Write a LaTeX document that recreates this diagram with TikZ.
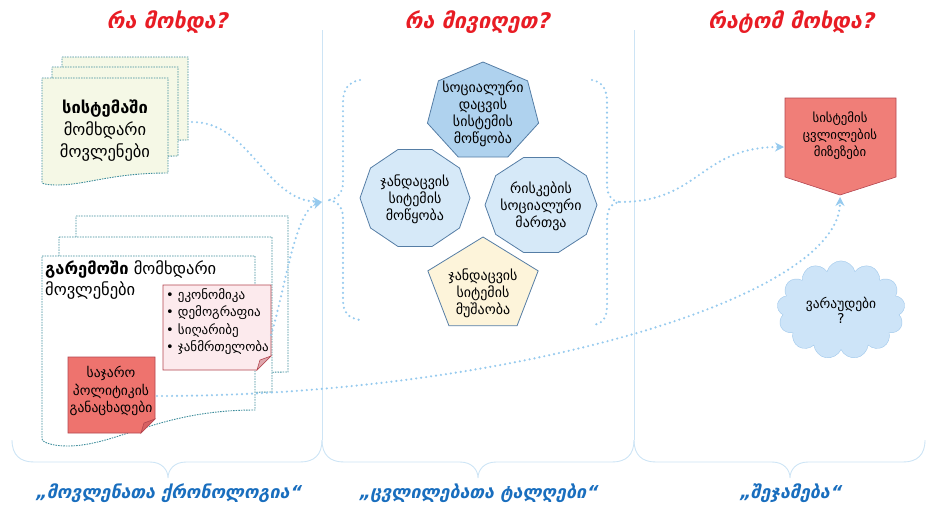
\documentclass[tikz,border=0pt]{standalone}
\usepackage{fontspec}
\setmainfont{DejaVu Sans}
\newfontfamily\headfont[FakeSlant=0.22]{DejaVu Sans Bold}
\usetikzlibrary{arrows.meta,shapes.symbols}

\definecolor{titlered}{RGB}{232,28,36}
\definecolor{labelblue}{RGB}{25,110,190}
\definecolor{sepblue}{RGB}{205,228,245}
\definecolor{dotblue}{RGB}{150,202,238}
\definecolor{docedge}{RGB}{60,140,155}
\definecolor{docfill}{RGB}{245,248,230}
\definecolor{polyedge}{RGB}{85,125,165}
\definecolor{heptfill}{RGB}{175,210,238}
\definecolor{decfill}{RGB}{214,233,248}
\definecolor{pentfill}{RGB}{253,244,218}
\definecolor{notepink}{RGB}{252,234,237}
\definecolor{pinkedge}{RGB}{180,70,80}
\definecolor{notered}{RGB}{238,115,110}
\definecolor{causered}{RGB}{240,126,120}
\definecolor{cloudfill}{RGB}{205,228,248}
\definecolor{cloudedge}{RGB}{160,200,235}

\tikzset{
  heading/.style={font=\headfont\fontsize{21.5}{24}\selectfont, text=titlered},
  footing/.style={font=\headfont\fontsize{17.8}{20}\selectfont, text=labelblue},
  sepline/.style={draw=sepblue, line width=0.9pt},
  docline/.style={draw=docedge, line width=0.9pt, dash pattern=on 1.5pt off 1.1pt},
  polyline/.style={draw=polyedge, line width=0.8pt},
  flow/.style={draw=dotblue, line width=2.4pt, dash pattern=on 0pt off 5pt, line cap=round},
  flowtip/.style={flow, -{Stealth[length=9pt,width=9pt,fill=dotblue]}},
  bodytext/.style={font=\fontsize{14}{17}\selectfont, align=center},
}

% one page of a stack: x1,y1,x2,y2,wave,fill
\newcommand\docsheet[6]{%
  \filldraw[docline, fill=#6] (#1,#2) -- (#3,#2) -- (#3,#4)
    .. controls ({#3-0.45*(#3-#1)},#4) and ({#1+0.35*(#3-#1)},{#4+#5}) .. ({#1+0.12*(#3-#1)},{#4+#5})
    .. controls ({#1+0.05*(#3-#1)},{#4+#5}) and (#1,{#4+0.9*#5}) .. (#1,{#4+0.8*#5}) -- cycle;}

% note with folded corner: x1,y1,x2,y2,fill,edge
\newcommand\stickynote[6]{%
  \filldraw[fill=#5, draw=#6, line width=0.6pt] (#1,#2) -- (#3,#2) -- (#3,{#4-14}) -- ({#3-14},#4) -- (#1,#4) -- cycle;
  \filldraw[fill=#6!40!#5, draw=#6, line width=0.6pt] (#3,{#4-14}) -- ({#3-14},#4) -- ({#3-11},{#4-10}) -- cycle;}

% polygon: sides, cx, cy, rx, ry, start angle, fill
\newcommand\polyshape[7]{%
  \filldraw[polyline, fill=#7] ({#2+#4*cos(#6)},{#3-#5*sin(#6)})
    \foreach \k in {1,...,#1}{ -- ({#2+#4*cos(#6+\k*360/#1)},{#3-#5*sin(#6+\k*360/#1)}) } -- cycle;}

% column bracket: left x, tip x, right x
\newcommand\colbrace[3]{%
  \draw[sepline] (#1,440) .. controls (#1,455) and ({#1+8},462) .. ({#1+22},462) -- ({#2-18},462)
    .. controls ({#2-6},462) and (#2,470) .. (#2,478)
    .. controls (#2,470) and ({#2+6},462) .. ({#2+18},462) -- ({#3-22},462)
    .. controls ({#3-8},462) and (#3,455) .. (#3,440);}

\begin{document}
\begin{tikzpicture}[x=1pt,y=-1pt]
\useasboundingbox (0,0) rectangle (933,512);

% column separators
\draw[sepline] (322,30) -- (322,440);
\draw[sepline] (634,30) -- (634,440);
\colbrace{12}{168}{322}
\colbrace{322}{478}{634}
\colbrace{634}{790}{925}

% headings and captions
\node[heading] (what) at (167,22) {რა მოხდა?};
\node[heading] (got) at (477,22) {რა მივიღეთ?};
\node[heading] (why) at (791,22) {რატომ მოხდა?};
\node[footing] (chrono) at (168,493) {„მოვლენათა ქრონოლოგია“};
\node[footing] (waves) at (478,493) {„ცვლილებათა ტალღები“};
\node[footing] (summary) at (790,493) {„შეჯამება“};

% events inside the system
\docsheet{62}{57}{188}{140}{10}{docfill}
\docsheet{52}{67}{178}{156}{11}{docfill}
\docsheet{42}{78}{168}{173}{12}{docfill}
\node[bodytext, font=\fontsize{16.5}{22}\selectfont] (sysev) at (105,131) {{\bfseries სისტემაში}\\მომხდარი\\მოვლენები};

% events in the environment
\docsheet{76}{216}{288}{372}{30}{white}
\docsheet{59}{237}{272}{392}{33}{white}
\docsheet{42}{256}{255}{410}{36}{white}
\node[anchor=north west, align=left, font=\fontsize{16.5}{21}\selectfont, inner sep=0pt] (envev) at (45,260) {{\bfseries გარემოში} მომხდარი\\მოვლენები};

\stickynote{163}{285}{271}{370}{notepink}{pinkedge}
\node[anchor=north west, align=left, font=\fontsize{13}{17.5}\selectfont, inner sep=0pt] (factors) at (166,288) {• ეკონომიკა\\• დემოგრაფია\\• სიღარიბე\\• ჯანმრთელობა};

\stickynote{68}{357}{155}{433}{notered}{pinkedge}
\node[bodytext, font=\fontsize{13.6}{17.5}\selectfont] (policy) at (111,391) {საჯარო\\პოლიტიკის\\განაცხადები};

% results
\polyshape{7}{483}{112}{57}{50}{90}{heptfill}
\node[bodytext] (social) at (483,114) {სოციალური\\დაცვის\\სისტემის\\მოწყობა};
\polyshape{10}{415}{198}{55}{51}{0}{decfill}
\node[bodytext] (health) at (415,199) {ჯანდაცვის\\სიტემის\\მოწყობა};
\polyshape{10}{541}{205}{56}{50}{0}{decfill}
\node[bodytext] (risk) at (541,206) {რისკების\\სოციალური\\მართვა};
\polyshape{5}{483}{286}{58}{49}{90}{pentfill}
\node[bodytext] (work) at (483,293) {ჯანდაცვის\\სიტემის\\მუშაობა};

% dotted brackets round the results
\coordinate (inL) at (322,202);
\coordinate (outR) at (620,202);
\draw[flow] (360,80) .. controls (348,82) and (343,90) .. (343,102) -- (343,182)
  .. controls (343,195) and (335,200) .. (327,200) .. controls (335,200) and (343,205) .. (343,218)
  -- (343,300) .. controls (343,312) and (348,318) .. (360,320);
\draw[flow] (592,80) .. controls (603,82) and (607,90) .. (607,102) -- (607,185)
  .. controls (607,196) and (613,202) .. (outR) .. controls (613,202) and (607,208) .. (607,220)
  -- (607,305) .. controls (607,318) and (603,324) .. (592,325);

% causes
\filldraw[draw=pinkedge, line width=0.6pt, fill=causered] (785,98) -- (896,98) -- (896,177) -- (840,195) -- (785,177) -- cycle;
\node[bodytext, font=\fontsize{12.8}{17}\selectfont] (cause) at (840,136) {სისტემის\\ცვლილების\\მიზეზები};
\coordinate (causeW) at (784,147);
\coordinate (causeS) at (840,197);

\node[cloud, cloud puffs=13, aspect=1.35, fill=cloudfill, draw=cloudedge, minimum width=128pt, minimum height=95pt,
  align=center, font=\fontsize{13.5}{15}\selectfont] (guess) at (841,310) {ვარაუდები\\?};

% dotted links
\coordinate (sysout) at (192,122);
\coordinate (envout) at (271,335);
\coordinate (polout) at (157,396);
\draw[flowtip] (sysout) .. controls (250,122) and (265,200) .. (inL);
\draw[flowtip] (envout) .. controls (285,290) and (295,210) .. (inL);
\draw[flowtip] (outR) .. controls (700,202) and (700,147) .. (causeW);
\draw[flowtip] (polout) .. controls (500,396) and (840,300) .. (causeS);
\end{tikzpicture}
\end{document}
